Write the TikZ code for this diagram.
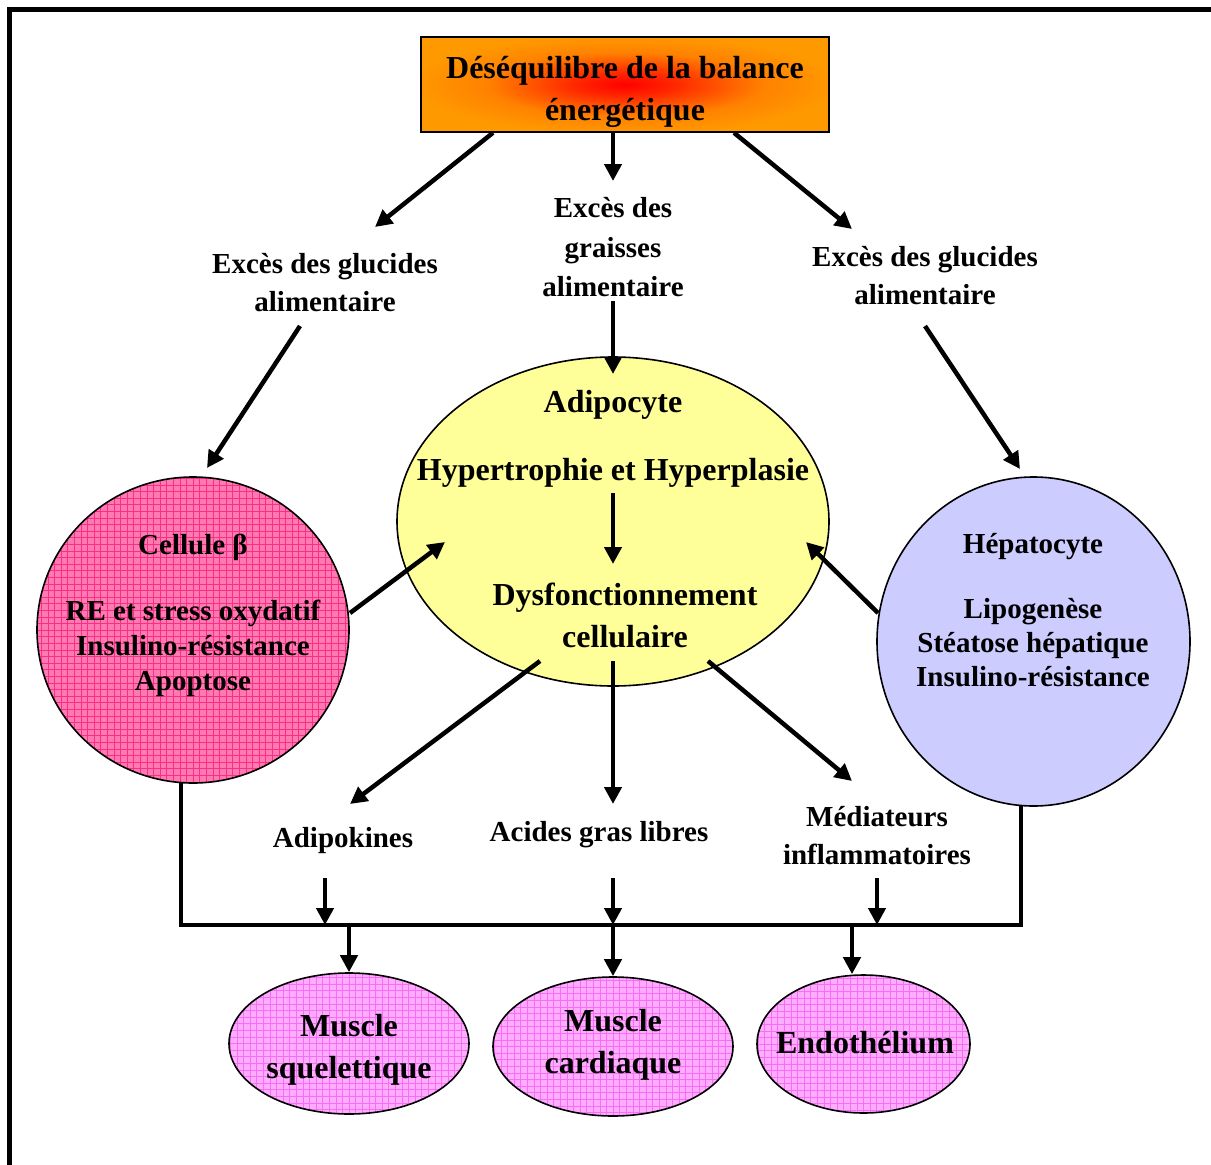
\documentclass[tikz,border=0pt]{standalone}
\usepackage{fontspec}
\setmainfont{Liberation Serif}
\usetikzlibrary{arrows.meta,shapes.geometric}
\definecolor{boxorange}{RGB}{255,153,0}
\definecolor{adipoyellow}{RGB}{255,255,153}
\definecolor{betapink}{RGB}{255,122,176}
\definecolor{betagrid}{RGB}{250,45,135}
\definecolor{hepblue}{RGB}{204,204,255}
\definecolor{musclepink}{RGB}{255,172,255}
\definecolor{musclegrid}{RGB}{245,110,245}
\pgfdeclareradialshading{glow}{\pgfpoint{0bp}{0bp}}{color(0bp)=(red); color(6bp)=(red!75!boxorange); color(17bp)=(boxorange!85!red); color(26bp)=(boxorange); color(50bp)=(boxorange)}

\begin{document}
\begin{tikzpicture}[x=1pt,y=-1pt,
  flow/.style={line width=4.5pt,-{Triangle[length=17pt,width=17pt]}},
  wire/.style={line width=4.5pt},
  small/.style={font=\bfseries\fontsize{29}{38}\selectfont, align=center, inner sep=0},
  big/.style={font=\bfseries\fontsize{32}{42}\selectfont, align=center, inner sep=0},
  cell/.style={ellipse, draw, line width=1.6pt, inner sep=0},
  gridded/.style={path picture={\draw[#1, line width=0.55pt]
      (path picture bounding box.south west) grid[step=6.6pt] (path picture bounding box.north east);}},
]
\useasboundingbox (0,0) rectangle (1211,1165);

% outer frame
\draw[line width=5pt] (9.5,1175) -- (9.5,9.5) -- (1220,9.5);

% title box
\node[draw, line width=1.5pt, shading=glow, minimum width=408pt, minimum height=95pt, inner sep=0] (top) at (625,84.5) {};
\begin{scope}
  \clip (top.south west) rectangle (top.north east);
  \node[big] (toptext) at (625,92) {Déséquilibre de la balance\\énergétique};
\end{scope}

% cells
\node[cell, fill=adipoyellow, minimum width=432pt, minimum height=329pt] (adipo) at (613,521.5) {};
\node[cell, fill=betapink, gridded=betagrid, minimum width=312pt, minimum height=306pt] (beta) at (193,630) {};
\node[cell, fill=hepblue, minimum width=313pt, minimum height=329pt] (hep) at (1033.5,641.5) {};
\node[cell, fill=musclepink, gridded=musclegrid, minimum width=240pt, minimum height=141pt] (msq) at (349,1043.5) {};
\node[cell, fill=musclepink, gridded=musclegrid, minimum width=240pt, minimum height=139pt] (mca) at (613,1046.5) {};
\node[cell, fill=musclepink, gridded=musclegrid, minimum width=213pt, minimum height=138pt] (endo) at (863.5,1044) {};

% labels
\node[small] (lblL) at (325,283) {Excès des glucides\\alimentaire};
\node[small, text depth=0pt] (lblM) at (613,247) {Excès des\\[1.5pt]graisses\\[1.5pt]alimentaire};
\node[small] (lblR) at (925,276) {Excès des glucides\\alimentaire};

\node[big] (adtitle) at (613,405) {Adipocyte};
\node[big] (adhyp) at (613,473) {Hypertrophie et Hyperplasie};
\node[big] (addys) at (625,615) {Dysfonctionnement\\cellulaire};

\node[small] (betatitle) at (193,547) {Cellule β};
\node[small, font=\bfseries\fontsize{29}{35}\selectfont] (betabody) at (193,648) {RE et stress oxydatif\\Insulino-résistance\\Apoptose};

\node[small] (heptitle) at (1033,547) {Hépatocyte};
\node[small, font=\bfseries\fontsize{29}{34}\selectfont] (hepbody) at (1033,643) {Lipogenèse\\Stéatose hépatique\\Insulino-résistance};

\node[small] (adipok) at (343,841) {Adipokines};
\node[small] (agl) at (599,835) {Acides gras libres};
\node[small] (medi) at (877,836) {Médiateurs\\inflammatoires};

\node[big] (msqtext) at (349,1050) {Muscle\\squelettique};
\node[big] (mcatext) at (613,1045) {Muscle\\cardiaque};
\node[big] (endotext) at (865,1043) {Endothélium};

% arrow end points
\coordinate (e1) at (375,227);
\coordinate (e2) at (613,181);
\coordinate (e3) at (852,229);
\coordinate (s4) at (300,326);
\coordinate (e4) at (207,468);
\coordinate (s5) at (613,301);
\coordinate (e5) at (613,374);
\coordinate (s6) at (925,326);
\coordinate (e6) at (1020,469);
\coordinate (s7) at (613,493);
\coordinate (e7) at (613,564);
\coordinate (s8) at (350,613);
\coordinate (e8) at (445,542);
\coordinate (s9) at (878,613);
\coordinate (e9) at (806,542);
\coordinate (s10) at (540,661);
\coordinate (e10) at (350,804);
\coordinate (s11) at (613,661);
\coordinate (e11) at (613,804);
\coordinate (s12) at (708,661);
\coordinate (e12) at (852,781);
\coordinate (busL) at (181,925);
\coordinate (busR) at (1021,925);
\coordinate (betafoot) at (181,783);
\coordinate (hepfoot) at (1021,806);
\coordinate (inA) at (325,878);
\coordinate (inB) at (613,878);
\coordinate (inC) at (877,878);
\coordinate (outA) at (349,925);
\coordinate (outB) at (613,925);
\coordinate (outC) at (852,925);

% arrows from the title box
\draw[flow] ([xshift=-132pt]top.south) -- (e1);
\draw[flow] ([xshift=-12pt]top.south) -- (e2);
\draw[flow] ([xshift=109pt]top.south) -- (e3);

% arrows towards the cells
\draw[flow] (s4) -- (e4);
\draw[flow] (s5) -- (e5);
\draw[flow] (s6) -- (e6);
\draw[flow] (s7) -- (e7);
\draw[flow] (s8) -- (e8);
\draw[flow] (s9) -- (e9);

% secretions of the adipocyte
\draw[flow] (s10) -- (e10);
\draw[flow] (s11) -- (e11);
\draw[flow] (s12) -- (e12);

% collecting bus
\draw[wire] (betafoot) -- (busL) -- (busR) -- (hepfoot);
\draw[flow] (inA) -- (inA |- busL);
\draw[flow] (inB) -- (inB |- busL);
\draw[flow] (inC) -- (inC |- busL);

% arrows to the target tissues
\draw[flow] (outA) -- (msq.north);
\draw[flow] (outB) -- (mca.north);
\draw[flow] (outC) -- (outC |- endo.north);
\end{tikzpicture}
\end{document}
